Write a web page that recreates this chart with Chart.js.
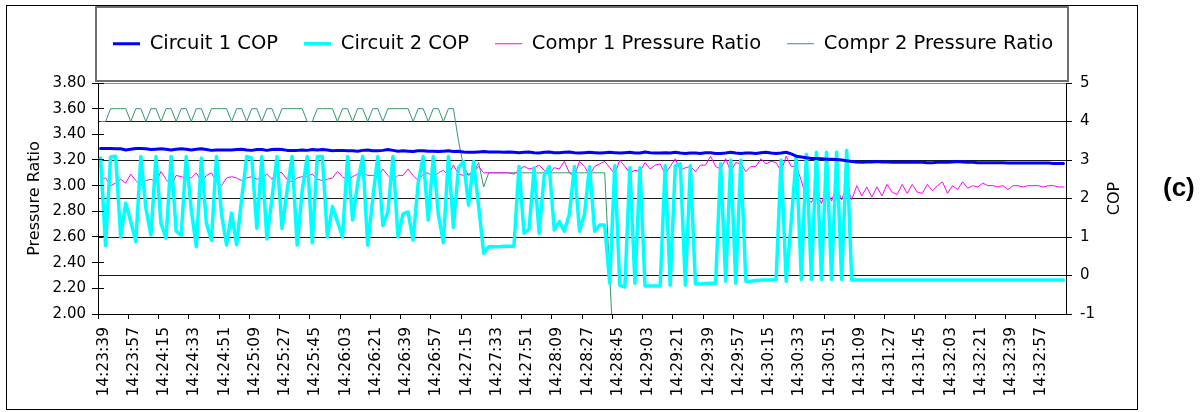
<!DOCTYPE html>
<html>
<head>
<meta charset="utf-8">
<title>Circuit COP and compressor pressure ratio</title>
<script src="https://cdn.jsdelivr.net/npm/chart.js@4.4.1/dist/chart.umd.min.js"></script>
<style>
	html, body { margin: 0; padding: 0; background: #fff; }
	#wrap { position: relative; width: 1202px; height: 412px; }
	#frame { position: absolute; left: 6px; top: 5px; width: 1132px; height: 405px; border: 1px solid #000; box-sizing: border-box; }
	#tag { position: absolute; left: 1163px; top: 174px; font: bold 26px "Liberation Sans", Arial, sans-serif; line-height: 26px; color: #000; }
	canvas { position: absolute; left: 0; top: 0; }
</style>
</head>
<body>
<div id="wrap">
	<div id="frame"></div>
	<canvas id="copChart" width="1202" height="412"></canvas>
	<div id="tag">(c)</div>
</div>
<script>
// one sample every 3 s, a time label every 6 samples
const startTime = '14:23:39';
const stepSeconds = 3;
const labelEvery = 6;

const tickLabels = [
	'14:23:39', '14:23:57', '14:24:15', '14:24:33', '14:24:51', '14:25:09', '14:25:27', '14:25:45',
	'14:26:03', '14:26:21', '14:26:39', '14:26:57', '14:27:15', '14:27:33', '14:27:51', '14:28:09',
	'14:28:27', '14:28:45', '14:29:03', '14:29:21', '14:29:39', '14:29:57', '14:30:15', '14:30:33',
	'14:30:51', '14:31:09', '14:31:27', '14:31:45', '14:32:03', '14:32:21', '14:32:39', '14:32:57'
];

const circuit1Cop = [
	3.30, 3.30, 3.30, 3.29, 3.29, 3.26, 3.28, 3.30, 3.30, 3.29, 3.27, 3.28,
	3.29, 3.28, 3.26, 3.28, 3.29, 3.28, 3.26, 3.28, 3.29, 3.27, 3.25, 3.26,
	3.26, 3.26, 3.26, 3.27, 3.28, 3.26, 3.25, 3.27, 3.27, 3.25, 3.27, 3.28,
	3.27, 3.25, 3.25, 3.25, 3.26, 3.25, 3.27, 3.26, 3.27, 3.26, 3.24, 3.25,
	3.25, 3.24, 3.24, 3.23, 3.25, 3.26, 3.24, 3.24, 3.25, 3.27, 3.25, 3.23,
	3.24, 3.23, 3.22, 3.24, 3.24, 3.23, 3.23, 3.22, 3.23, 3.24, 3.22, 3.23,
	3.21, 3.20, 3.20, 3.21, 3.22, 3.21, 3.21, 3.21, 3.20, 3.21, 3.20, 3.19,
	3.20, 3.21, 3.19, 3.18, 3.20, 3.21, 3.19, 3.19, 3.20, 3.21, 3.19, 3.18,
	3.19, 3.20, 3.19, 3.18, 3.19, 3.20, 3.19, 3.18, 3.19, 3.20, 3.18, 3.18,
	3.21, 3.19, 3.18, 3.18, 3.19, 3.18, 3.20, 3.18, 3.17, 3.18, 3.18, 3.17,
	3.19, 3.19, 3.17, 3.17, 3.18, 3.20, 3.18, 3.17, 3.18, 3.18, 3.17, 3.19,
	3.20, 3.18, 3.17, 3.18, 3.20, 3.16, 3.10, 3.08, 3.06, 3.04, 3.04, 3.03,
	3.02, 3.02, 3.01, 3.00, 2.98, 2.96, 2.95, 2.94, 2.95, 2.95, 2.96, 2.95,
	2.95, 2.94, 2.94, 2.94, 2.94, 2.95, 2.94, 2.94, 2.93, 2.93, 2.94, 2.94,
	2.94, 2.95, 2.96, 2.95, 2.94, 2.94, 2.93, 2.93, 2.93, 2.93, 2.93, 2.93,
	2.92, 2.92, 2.92, 2.92, 2.92, 2.92, 2.92, 2.92, 2.92, 2.91, 2.91, 2.91
];

const circuit2Cop = [
	3.05, 0.78, 3.08, 3.10, 1.00, 1.88, 1.40, 0.88, 3.09, 1.75, 1.05, 3.09,
	1.35, 0.97, 3.09, 1.15, 1.05, 3.09, 1.70, 0.75, 3.05, 1.36, 0.92, 3.09,
	1.60, 0.79, 1.62, 0.80, 2.00, 3.09, 3.05, 1.23, 3.09, 0.95, 2.00, 3.09,
	1.22, 2.20, 3.09, 0.79, 2.20, 3.09, 0.85, 3.09, 3.09, 1.00, 1.79, 1.40,
	1.00, 3.09, 1.44, 2.40, 3.09, 0.79, 2.00, 3.09, 1.30, 1.65, 3.09, 1.00,
	1.60, 1.65, 0.92, 2.40, 3.09, 1.44, 3.09, 1.60, 0.85, 3.09, 1.25, 2.80,
	2.96, 1.83, 2.96, 1.80, 0.58, 0.75, 0.75, 0.75, 0.76, 0.76, 0.76, 2.83,
	1.10, 1.20, 2.79, 1.10, 2.60, 2.83, 1.18, 1.40, 1.15, 1.60, 2.83, 1.15,
	1.60, 2.83, 1.15, 1.31, 1.31, -0.20, 2.85, -0.25, -0.30, 2.80, -0.20, 2.80,
	-0.27, -0.27, -0.27, -0.27, 2.85, -0.25, 2.85, 2.90, -0.25, 2.85, -0.22, -0.22,
	-0.21, -0.20, -0.20, 2.90, -0.15, 3.00, -0.20, 3.00, -0.15, -0.15, -0.13, -0.12,
	-0.12, -0.12, -0.10, 3.00, -0.15, 1.40, 3.10, -0.10, 3.15, -0.10, 3.20, -0.10,
	3.20, -0.10, 3.20, -0.10, 3.25, -0.12, -0.12, -0.12, -0.12, -0.12, -0.12, -0.12,
	-0.12, -0.12, -0.12, -0.12, -0.12, -0.12, -0.12, -0.12, -0.12, -0.12, -0.12, -0.12,
	-0.12, -0.12, -0.12, -0.12, -0.12, -0.12, -0.12, -0.12, -0.12, -0.12, -0.12, -0.12,
	-0.12, -0.12, -0.12, -0.12, -0.12, -0.12, -0.12, -0.12, -0.12, -0.12, -0.12, -0.12
];

const compr1Ratio = [
	3.05, 3.06, 3.00, 3.02, 3.05, 3.02, 3.09, 3.04, 3.00, 3.04, 3.05, 3.03,
	3.11, 3.05, 3.00, 3.08, 3.07, 3.06, 3.06, 3.10, 3.03, 3.08, 3.10, 3.03,
	3.00, 3.06, 3.07, 3.06, 3.04, 3.06, 3.07, 3.05, 3.06, 3.09, 3.05, 3.11,
	3.10, 3.05, 3.03, 3.06, 3.07, 3.07, 3.09, 3.05, 3.04, 3.05, 3.06, 3.11,
	3.07, 3.04, 3.07, 3.09, 3.10, 3.08, 3.08, 3.07, 3.13, 3.08, 3.04, 3.08,
	3.08, 3.13, 3.08, 3.04, 3.09, 3.10, 3.06, 3.10, 3.12, 3.08, 3.16, 3.09,
	3.08, 3.09, 3.10, 3.15, 3.10, 3.10, 3.10, 3.10, 3.10, 3.10, 3.09, 3.12,
	3.15, 3.13, 3.14, 3.16, 3.12, 3.09, 3.14, 3.13, 3.19, 3.10, 3.07, 3.19,
	3.15, 3.08, 3.15, 3.17, 3.19, 3.14, 3.09, 3.20, 3.15, 3.10, 3.12, 3.11,
	3.18, 3.13, 3.16, 3.17, 3.09, 3.15, 3.21, 3.12, 3.14, 3.15, 3.11, 3.16,
	3.16, 3.23, 3.15, 3.13, 3.21, 3.11, 3.18, 3.17, 3.11, 3.15, 3.15, 3.21,
	3.17, 3.19, 3.18, 3.11, 3.23, 3.15, 3.15, 3.04, 2.90, 2.87, 2.95, 2.86,
	2.98, 2.88, 2.99, 2.89, 3.00, 2.89, 3.00, 2.92, 2.99, 2.91, 2.99, 2.92,
	3.01, 2.95, 2.93, 3.01, 2.94, 3.01, 2.95, 2.94, 3.01, 2.96, 3.00, 3.03,
	2.94, 3.00, 2.97, 3.03, 2.98, 3.00, 2.99, 3.02, 3.00, 3.00, 2.99, 3.00,
	2.97, 3.00, 3.00, 2.99, 3.00, 3.00, 3.00, 2.99, 3.00, 3.00, 2.99, 2.99
];

// falls below the axis minimum once compressor 2 stops
const compr2Ratio = [
	3.5, 3.5, 3.6, 3.6, 3.6, 3.6, 3.5, 3.6, 3.6, 3.5, 3.6, 3.6,
	3.5, 3.6, 3.6, 3.5, 3.6, 3.6, 3.5, 3.6, 3.6, 3.5, 3.6, 3.6,
	3.6, 3.6, 3.5, 3.6, 3.6, 3.5, 3.6, 3.6, 3.5, 3.6, 3.6, 3.5,
	3.6, 3.6, 3.6, 3.6, 3.6, 3.5, 3.5, 3.6, 3.6, 3.6, 3.6, 3.5,
	3.6, 3.6, 3.5, 3.6, 3.6, 3.5, 3.6, 3.6, 3.5, 3.6, 3.6, 3.6,
	3.6, 3.6, 3.5, 3.6, 3.6, 3.5, 3.6, 3.6, 3.5, 3.6, 3.6, 3.35,
	3.15, 3.08, 3.10, 3.18, 2.99, 3.10, 3.10, 3.10, 3.10, 3.10, 3.10, 3.10,
	3.10, 3.10, 3.10, 3.10, 3.10, 3.10, 3.10, 3.10, 3.10, 3.10, 3.10, 3.10,
	3.10, 3.10, 3.10, 3.10, 3.10, 2.30, 1.50, 0, 0, 0, 0, 0,
	0, 0, 0, 0, 0, 0, 0, 0, 0, 0, 0, 0,
	0, 0, 0, 0, 0, 0, 0, 0, 0, 0, 0, 0,
	0, 0, 0, 0, 0, 0, 0, 0, 0, 0, 0, 0,
	0, 0, 0, 0, 0, 0, 0, 0, 0, 0, 0, 0,
	0, 0, 0, 0, 0, 0, 0, 0, 0, 0, 0, 0,
	0, 0, 0, 0, 0, 0, 0, 0, 0, 0, 0, 0,
	0, 0, 0, 0, 0, 0, 0, 0, 0, 0, 0, 0
];

function addSeconds(hms, secs) {
	const p = hms.split(':').map(Number);
	const t = p[0] * 3600 + p[1] * 60 + p[2] + secs;
	const pad = n => String(n).padStart(2, '0');
	return pad(Math.floor(t / 3600)) + ':' + pad(Math.floor(t / 60) % 60) + ':' + pad(t % 60);
}
const categories = circuit1Cop.map((_, i) => addSeconds(startTime, i * stepSeconds));

// keep the legend on one row with a fixed height; start the row at x = 113
const legendRow = {
	id: 'legendRow',
	beforeInit(chart) {
		const legend = chart.legend;
		const fit = legend.fit;
		legend.fit = function () {
			const w = this.maxWidth;
			this.maxWidth = 1400;
			fit.call(this);
			this.maxWidth = w;
			this.width = w;
			this.height = 75;
		};
	},
	beforeDraw(chart) {
		const legend = chart.legend;
		legend.left = 87;
		legend.right = 1400;
	}
};

// legend frame, crossing ticks on the left axis and the upright COP title
const chartExtras = {
	id: 'chartExtras',
	afterDraw(chart) {
		const ctx = chart.ctx;
		const area = chart.chartArea;
		const yScale = chart.scales.y;
		ctx.save();
		ctx.strokeStyle = '#6f6f6f';
		ctx.lineWidth = 2;
		ctx.strokeRect(area.left - 2, 7, area.right - area.left + 4, 74);

		ctx.strokeStyle = '#000';
		ctx.lineWidth = 1;
		yScale.ticks.forEach(t => {
			const py = Math.round(yScale.getPixelForValue(t.value) - 0.5) + 0.5;
			ctx.beginPath();
			ctx.moveTo(area.left, py);
			ctx.lineTo(area.left + 6, py);
			ctx.stroke();
		});

		ctx.translate(1115, (area.top + area.bottom) / 2);
		ctx.rotate(-Math.PI / 2);
		ctx.font = '16px "DejaVu Sans"';
		ctx.fillStyle = '#000';
		ctx.textAlign = 'center';
		ctx.textBaseline = 'middle';
		ctx.fillText('COP', 0, 0);
		ctx.restore();
	}
};

Chart.defaults.font.family = '"DejaVu Sans", Verdana, sans-serif';
Chart.defaults.color = '#000';

new Chart(document.getElementById('copChart'), {
	type: 'line',
	data: {
		labels: categories,
		datasets: [{
			label: 'Circuit 1 COP',
			data: circuit1Cop,
			yAxisID: 'y2',
			borderColor: '#0000ff',
			backgroundColor: '#0000ff',
			borderWidth: 3
		}, {
			label: 'Circuit 2 COP',
			data: circuit2Cop,
			yAxisID: 'y2',
			borderColor: '#00ffff',
			backgroundColor: '#00ffff',
			borderWidth: 3.5
		}, {
			label: 'Compr 1 Pressure Ratio',
			data: compr1Ratio,
			yAxisID: 'y',
			borderColor: '#ff00ff',
			backgroundColor: '#ff00ff',
			borderWidth: 1
		}, {
			label: 'Compr 2 Pressure Ratio',
			data: compr2Ratio,
			yAxisID: 'y',
			borderColor: '#339966',
			backgroundColor: '#339966',
			borderWidth: 1
		}]
	},
	options: {
		responsive: false,
		animation: false,
		devicePixelRatio: 1,
		elements: {
			point: { radius: 0 },
			line: { tension: 0, borderJoinStyle: 'round', borderCapStyle: 'round' }
		},
		layout: {
			padding: { top: 8, left: 0, right: 0, bottom: 0 }
		},
		plugins: {
			legend: {
				position: 'top',
				align: 'start',
				fullSize: false,
				labels: {
					usePointStyle: true,
					pointStyle: 'line',
					pointStyleWidth: 27,
					padding: 26,
					color: '#000',
					font: { size: 19.5 }
				}
			},
			tooltip: { enabled: false }
		},
		scales: {
			x: {
				type: 'category',
				offset: true,
				grid: {
					offset: true,
					drawOnChartArea: false,
					tickLength: 5,
					color: c => (c.index % labelEvery === 0 ? '#000' : 'rgba(0,0,0,0)')
				},
				border: { color: '#000' },
				ticks: {
					autoSkip: false,
					minRotation: 90,
					maxRotation: 90,
					padding: 8,
					labelOffset: 3,
					color: '#000',
					font: { size: 15.5 },
					callback: (v, i) => (i % labelEvery === 0 ? tickLabels[i / labelEvery] : '')
				},
				afterFit: s => { s.height = 98; }
			},
			y: {
				position: 'left',
				min: 2,
				max: 3.8,
				grid: { drawOnChartArea: false, tickLength: 6, color: '#000' },
				border: { color: '#000' },
				ticks: {
					stepSize: 0.2,
					padding: 6,
					color: '#000',
					font: { size: 15 },
					callback: v => v.toFixed(2)
				},
				title: {
					display: true,
					text: 'Pressure Ratio',
					color: '#000',
					font: { size: 16 },
					padding: { top: 25, bottom: 0 }
				},
				afterFit: s => { s.width = 98; }
			},
			y2: {
				position: 'right',
				min: -1,
				max: 5,
				grid: {
					tickLength: 6,
					tickColor: '#000',
					color: c => (c.tick && c.tick.value === 5 ? '#8c8c8c' : '#1a1a1a')
				},
				border: { color: '#000' },
				ticks: {
					stepSize: 1,
					padding: 8,
					color: '#000',
					font: { size: 15 }
				},
				afterFit: s => { s.width = 136; }
			}
		}
	},
	plugins: [legendRow, chartExtras]
});
</script>
</body>
</html>
